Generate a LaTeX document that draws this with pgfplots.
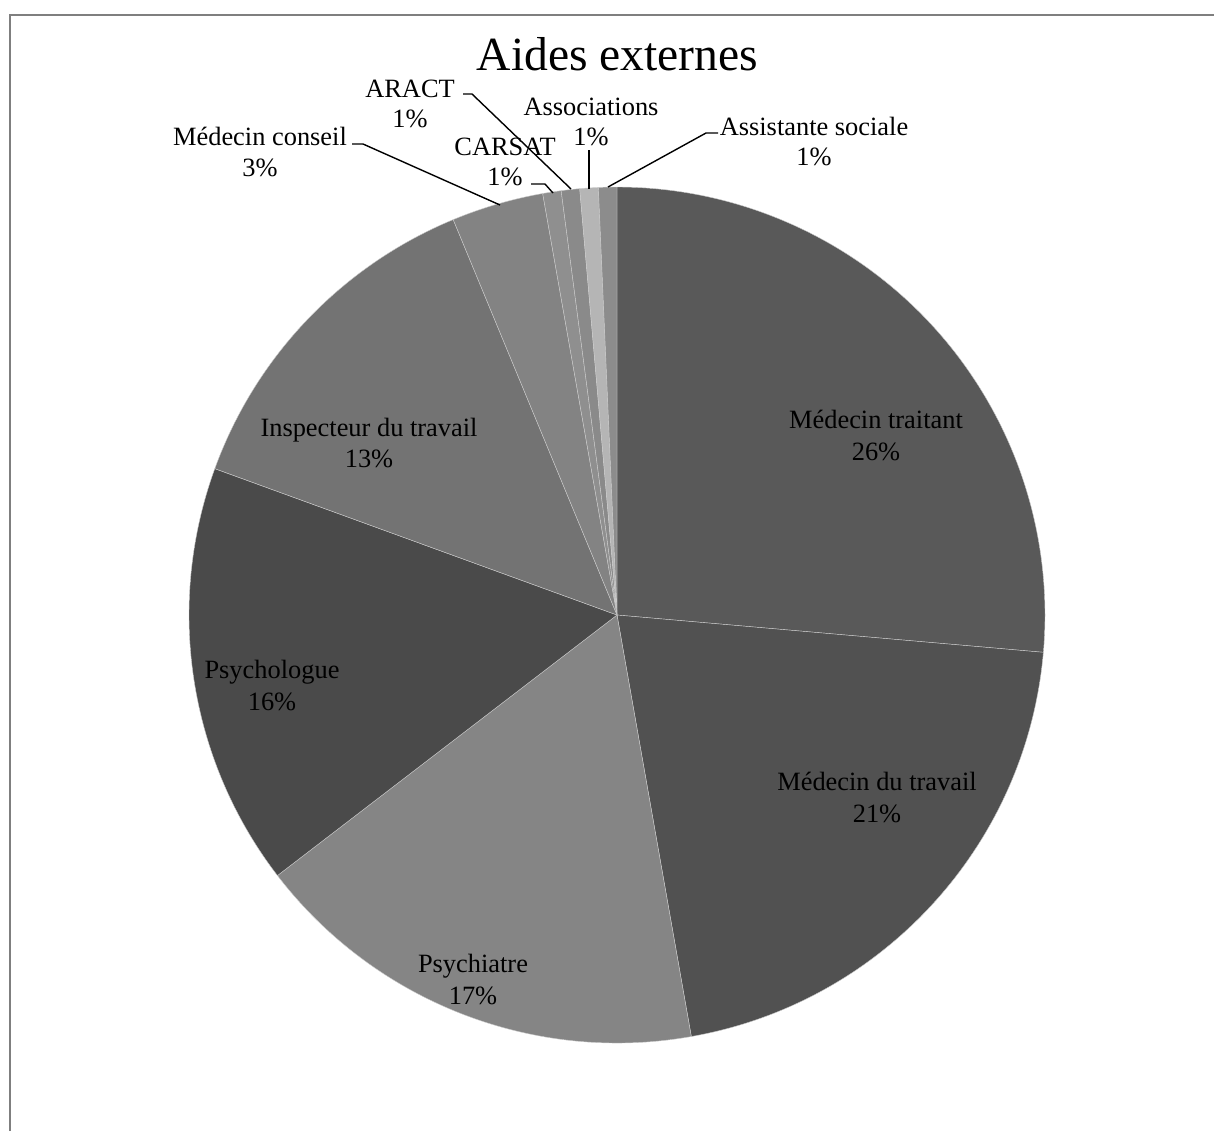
\documentclass[border=0pt]{standalone}
\usepackage{fontspec}
\setmainfont{Liberation Serif}
\usepackage{pgfplots}
\usepackage{pgfplotstable}
\pgfplotsset{compat=1.18}

% slice counts, clockwise from 12 o'clock
\pgfplotstableread{
label count
traitant 38
travail 30
psychiatre 25
psychologue 23
inspecteur 19
conseil 5
carsat 1
aract 1
associations 1
sociale 1
}\aides
\pgfplotstablecreatecol[create col/expr accum={\pgfmathaccuma+\thisrow{count}}{0}]{cum}\aides
\pgfplotstablegetelem{9}{cum}\of\aides \let\total\pgfplotsretval
% start / end angles (canvas degrees, clockwise from the top)
\pgfplotstablecreatecol[create col/expr={90-360*(\thisrow{cum}-\thisrow{count})/\total}]{a1}\aides
\pgfplotstablecreatecol[create col/expr={90-360*\thisrow{cum}/\total}]{a2}\aides

\definecolor{slice0}{HTML}{595959}
\definecolor{slice1}{HTML}{515151}
\definecolor{slice2}{HTML}{858585}
\definecolor{slice3}{HTML}{4A4A4A}
\definecolor{slice4}{HTML}{737373}
\definecolor{slice5}{HTML}{838383}
\definecolor{slice6}{HTML}{8F8F8F}
\definecolor{slice7}{HTML}{8A8A8A}
\definecolor{slice8}{HTML}{B5B5B5}
\definecolor{slice9}{HTML}{8C8C8C}
\definecolor{framegray}{HTML}{7F7F7F}

\tikzset{lab/.style={anchor=base, inner sep=0pt, font=\fontsize{13.2}{15.5}\selectfont}}

\begin{document}
\begin{tikzpicture}
\begin{axis}[
    width=607pt, height=565.5pt,
    scale only axis,
    xmin=0, xmax=1214, ymin=0, ymax=1131,
    y dir=reverse,
    enlargelimits=false,
    hide axis,
    clip=false,
  ]
% wedges
\pgfplotsextra{
  \pgfkeys{/pgf/fpu=false}
  \foreach \i in {0,...,9}{
    \pgfplotstablegetelem{\i}{a1}\of\aides \let\aA\pgfplotsretval
    \pgfplotstablegetelem{\i}{a2}\of\aides \let\aB\pgfplotsretval
    \fill[fill=slice\i, draw=white!60!gray, line width=0.2pt]
      (axis cs:617,615) -- ++(\aA:214pt)
      arc[start angle=\aA, end angle=\aB, radius=214pt] -- cycle;
  }
}
% frame
\addplot[framegray, line width=1pt, no marks] coordinates {(9.5,1131) (9.5,14.5) (1214,14.5)};
% leader lines
\addplot[black, line width=0.7pt, no marks] coordinates {(352,144) (363,144) (500,205)};
\addplot[black, line width=0.7pt, no marks] coordinates {(531,184) (545,184) (553,193)};
\addplot[black, line width=0.7pt, no marks] coordinates {(463,94) (472,94) (571,189)};
\addplot[black, line width=0.7pt, no marks] coordinates {(589,150) (589,189)};
\addplot[black, line width=0.7pt, no marks] coordinates {(718,133) (706,133) (608,187)};
% title
\node[anchor=base, inner sep=0pt, font=\fontsize{23.8}{28}\selectfont] at (axis cs:617.5,70) {Aides externes};
% labels
\node[lab] at (axis cs:876,428) {Médecin traitant};
\node[lab] at (axis cs:876,460) {26\%};
\node[lab] at (axis cs:877,790) {Médecin du travail};
\node[lab] at (axis cs:877,822) {21\%};
\node[lab] at (axis cs:473,972) {Psychiatre};
\node[lab] at (axis cs:473,1004) {17\%};
\node[lab] at (axis cs:272,678) {Psychologue};
\node[lab] at (axis cs:272,710) {16\%};
\node[lab] at (axis cs:369,436) {Inspecteur du travail};
\node[lab] at (axis cs:369,467) {13\%};
\node[lab] at (axis cs:260,145) {Médecin conseil};
\node[lab] at (axis cs:260,176) {3\%};
\node[lab] at (axis cs:410,97) {ARACT};
\node[lab] at (axis cs:410,127) {1\%};
\node[lab] at (axis cs:505,155) {CARSAT};
\node[lab] at (axis cs:505,185) {1\%};
\node[lab] at (axis cs:591,115) {Associations};
\node[lab] at (axis cs:591,145) {1\%};
\node[lab] at (axis cs:814,135) {Assistante sociale};
\node[lab] at (axis cs:814,165) {1\%};
\end{axis}
\pgfresetboundingbox
\path[use as bounding box] (0,0) rectangle (607pt,565.5pt);
\end{tikzpicture}
\end{document}
